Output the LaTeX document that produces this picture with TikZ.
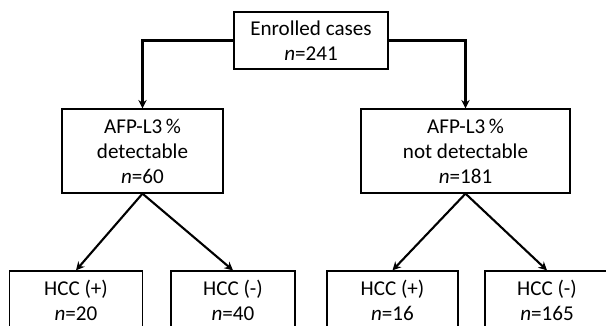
\documentclass[tikz,border=0pt]{standalone}
\usepackage{fontspec}
\setmainfont{Carlito}
\usepackage{tikz}
\usetikzlibrary{arrows.meta, positioning}

\begin{document}
\begin{tikzpicture}[
    casebox/.style={draw, line width=0.9pt, minimum width=#1, align=center, inner sep=0pt, font=\fontsize{15}{17.8}\selectfont},
    flow/.style={line width=1.5pt, -{Stealth[length=6pt, width=6pt]}}
]
    \useasboundingbox (0,0) rectangle (15.15,-8.15);
    \clip (0,0) rectangle (15.15,-8.15);

    % Top box
    \node[casebox=3.85cm, minimum height=1.425cm] (enrolled) at (7.775,-1.0125) {Enrolled cases\\\textit{n}=241};

    % Second level
    \node[casebox=4.025cm, minimum height=2.1cm] (detect) at (3.5625,-3.775) {AFP-L3\,\%\\detectable\\\textit{n}=60};
    \node[casebox=5.225cm, minimum height=2.1cm] (notdetect) at (11.6375,-3.775) {AFP-L3\,\%\\not detectable\\\textit{n}=181};

    % Bottom level (cut off at the lower edge)
    \node[casebox=3.325cm, minimum height=1.475cm] (hccposA) at (1.9,-7.5125) {HCC (+)\\\textit{n}=20};
    \node[casebox=3.1cm, minimum height=1.475cm] (hccnegA) at (5.825,-7.5125) {HCC (-)\\\textit{n}=40};
    \node[casebox=3.275cm, minimum height=1.475cm] (hccposB) at (9.8125,-7.5125) {HCC (+)\\\textit{n}=16};
    \node[casebox=3.1cm, minimum height=1.475cm] (hccnegB) at (13.675,-7.5125) {HCC (-)\\\textit{n}=165};

    % Connectors
    \draw[flow] (enrolled.west) -| (detect.north);
    \draw[flow] (enrolled.east) -| (notdetect.north);
    \draw[flow] (detect.south) -- (hccposA.north);
    \draw[flow] (detect.south) -- (hccnegA.north);
    \draw[flow] (notdetect.south) -- (hccposB.north);
    \draw[flow] (notdetect.south) -- (hccnegB.north);
\end{tikzpicture}
\end{document}
